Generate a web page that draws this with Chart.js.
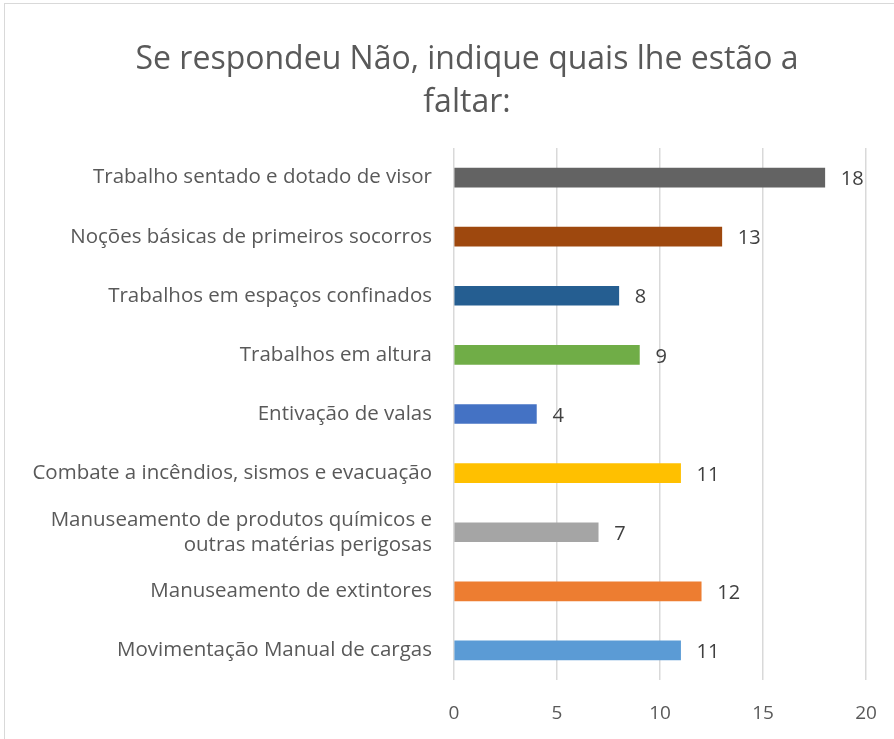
<!DOCTYPE html>
<html>
<head>
<meta charset="utf-8">
<script src="https://cdn.jsdelivr.net/npm/chart.js@4"></script>
<style>
    html, body { margin: 0; background: #fff; overflow: hidden; width: 894px; height: 739px; }
    #box { position: absolute; left: 4px; top: 3px; width: 920px; height: 760px; border: 1px solid #d9d9d9; }
    canvas { position: absolute; left: 0; top: 0; }
</style>
</head>
<body>
<div id="box"><canvas id="bar-chart" width="889" height="735"></canvas></div>
<script>
const categories = [
    'Trabalho sentado e dotado de visor',
    'Noções básicas de primeiros socorros',
    'Trabalhos em espaços confinados',
    'Trabalhos em altura',
    'Entivação de valas',
    'Combate a incêndios, sismos e evacuação',
    ['Manuseamento de produtos químicos e', 'outras matérias perigosas'],
    'Manuseamento de extintores',
    'Movimentação Manual de cargas'
]
const values = [18, 13, 8, 9, 4, 11, 7, 12, 11]
const barColors = ['#636363', '#9E480E', '#255E91', '#70AD47', '#4472C4', '#FFC000', '#A5A5A5', '#ED7D31', '#5B9BD5']
const xTicks = [0, 5, 10, 15, 20]
const titleLines = ['Se respondeu Não, indique quais lhe estão a', 'faltar:']

const fontFamily = '"Open Sans", Lato, sans-serif'

// title drawn by hand so it can be centred on the whole chart box, not on the padded area
const chartTitle = {
    id: 'chartTitle',
    afterDraw(chart) {
        const ctx = chart.ctx
        ctx.save()
        ctx.font = '32px ' + fontFamily
        ctx.fillStyle = '#595959'
        ctx.textAlign = 'center'
        ctx.textBaseline = 'middle'
        titleLines.forEach((line, i) => ctx.fillText(line, 462, 56 + i * 43))
        ctx.restore()
    }
}

// draws the value next to the end of each bar
const valueLabels = {
    id: 'valueLabels',
    afterDatasetsDraw(chart) {
        const ctx = chart.ctx
        const meta = chart.getDatasetMeta(0)
        ctx.save()
        ctx.font = '20px ' + fontFamily
        ctx.fillStyle = '#404040'
        ctx.textAlign = 'left'
        ctx.textBaseline = 'middle'
        meta.data.forEach((bar, i) => {
            ctx.fillText(values[i], bar.x + 16, bar.y + 2)
        })
        ctx.restore()
    }
}

const barChartContext = document.getElementById('bar-chart').getContext('2d')

new Chart(barChartContext, {
    type: 'bar',
    data: {
        labels: categories,
        datasets: [{
            data: values,
            backgroundColor: barColors,
            barThickness: 19
        }]
    },
    options: {
        indexAxis: 'y',
        responsive: false,
        animation: false,
        layout: { padding: { left: 0, right: 28, top: 144, bottom: 0 } },
        scales: {
            x: {
                min: 0,
                max: 20,
                afterBuildTicks: scale => { scale.ticks = xTicks.map(v => ({ value: v })) },
                afterFit: scale => {
                    scale.height = 59
                    scale.paddingLeft = 0
                    scale.paddingRight = 0
                },
                grid: { color: '#d9d9d9', lineWidth: 1.5, drawTicks: false },
                border: { display: false },
                ticks: { color: '#595959', font: { family: fontFamily, size: 19 }, padding: 22 }
            },
            y: {
                afterFit: scale => {
                    scale.width = 449
                    scale.paddingTop = 0
                    scale.paddingBottom = 0
                },
                grid: { display: false, drawTicks: false },
                border: { display: false },
                ticks: { color: '#595959', font: { family: fontFamily, size: 20.5, lineHeight: 1.22 }, padding: 22, autoSkip: false }
            }
        },
        plugins: {
            legend: { display: false },
            tooltip: { enabled: false },
            title: { display: false }
        }
    },
    plugins: [valueLabels, chartTitle]
})
</script>
</body>
</html>
